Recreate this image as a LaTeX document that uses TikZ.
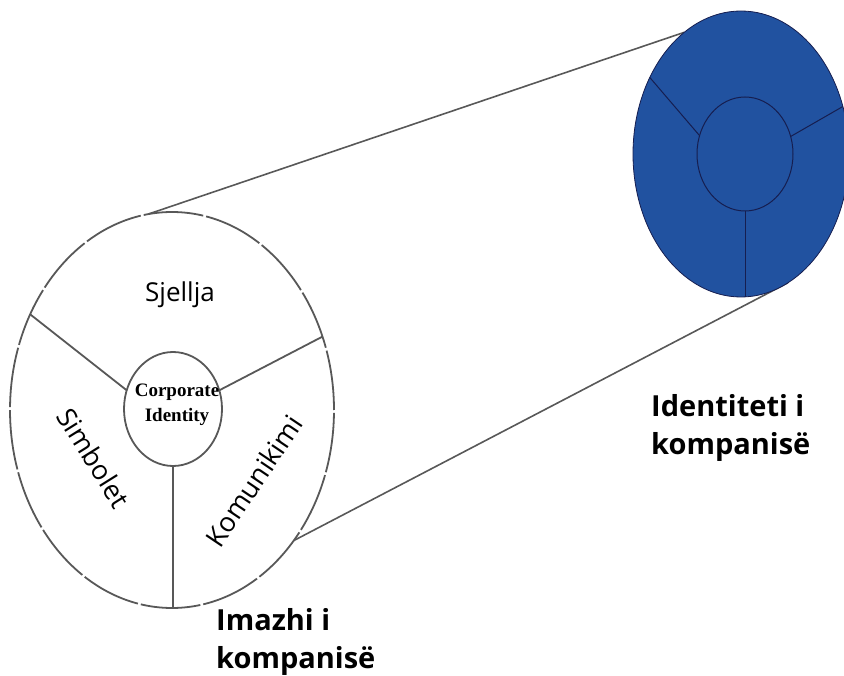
\documentclass[tikz,border=0pt]{standalone}
\usepackage{fontspec}
\setmainfont{Open Sans}
\newfontfamily\serifbold{Liberation Serif}
\usetikzlibrary{shapes.geometric}
\definecolor{rimgray}{RGB}{88,88,88}
\definecolor{discblue}{RGB}{33,82,160}
\definecolor{discline}{RGB}{22,30,80}
\begin{document}
\begin{tikzpicture}[x=1pt,y=-1pt,
  rim/.style={draw=rimgray,line width=1.8pt},
  ring/.style={ellipse,inner sep=0pt,outer sep=0pt},
  segtext/.style={font=\fontsize{26}{30}\selectfont,text=black,inner sep=0pt},
  caption/.style={font=\bfseries\fontsize{29}{38}\selectfont,align=left,inner sep=0pt,anchor=west}]
\useasboundingbox (0,0) rectangle (844,676);

% image disc (left) and its core
\node[ring,minimum width=324pt,minimum height=396pt] (img) at (172,410) {};
\node[ring,minimum width=98pt,minimum height=114pt] (imgcore) at (173,409) {};

% identity disc (right) and its core
\node[ring,minimum width=216pt,minimum height=286pt] (idt) at (741,154) {};
\node[ring,minimum width=96pt,minimum height=114pt] (idtcore) at (745,154) {};

% the cylinder sides joining the two discs
\draw[rim,line width=1.6pt] (img.97) -- (idt.115);
\draw[rim,line width=1.6pt] (img.-47.5) -- (idt.-70);

% left disc
\draw[rim,dash pattern=on 60pt off 3pt] (img.center) ellipse[x radius=162pt,y radius=198pt];
\draw[rim] (imgcore.center) ellipse[x radius=49pt,y radius=57pt];
\draw[rim] (img.146) -- (imgcore.158);
\draw[rim] (img.26) -- (imgcore.22);
\draw[rim] (imgcore.south) -- (imgcore.south |- img.south);

% right disc
\fill[discblue,draw=discline,line width=0.8pt] (idt.center) ellipse[x radius=108pt,y radius=143pt];
\draw[discline,line width=1pt] (idtcore.center) ellipse[x radius=48pt,y radius=57pt];
\draw[discline,line width=1pt] (idt.140) -- (idtcore.158);
\draw[discline,line width=1pt] (idt.25) -- (idtcore.21);
\draw[discline,line width=1pt] (idtcore.south) -- (idtcore.south |- idt.south);

% segment labels
\node[segtext] (sj) at (180,295) {Sjellja};
\node[segtext,font=\fontsize{27}{30}\selectfont,rotate=-58] (sim) at (94,458) {Simbolet};
\node[segtext,font=\fontsize{27}{30}\selectfont,rotate=56] (kom) at (254,481) {Komunikimi};
\node[font=\serifbold\bfseries\fontsize{19}{25}\selectfont,align=center,inner sep=0pt] (ci) at (177,405) {Corporate\\Identity};

% captions
\node[caption] (idlab) at (651,428) {Identiteti i\\kompanisë};
\node[caption] (imlab) at (216,642) {Imazhi i\\kompanisë};
\end{tikzpicture}
\end{document}
